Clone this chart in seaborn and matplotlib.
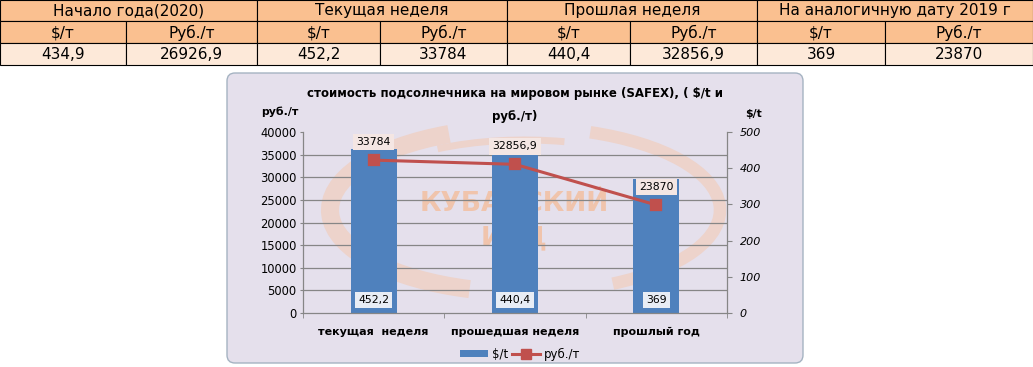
import pandas as pd
import matplotlib
matplotlib.use('Agg')
import matplotlib.pyplot as plt
import seaborn as sns
from matplotlib.patches import Rectangle, FancyBboxPatch, Patch, Arc
from matplotlib.lines import Line2D
from matplotlib.ticker import MultipleLocator

# === DATA ===
TABLE_GROUPS = ['Начало года(2020)', 'Текущая неделя', 'Прошлая неделя',
                'На аналогичную дату 2019 г']
TABLE_UNITS = ['$/т', 'Руб./т'] * 4
TABLE_VALUES = ['434,9', '26926,9', '452,2', '33784',
                '440,4', '32856,9', '369', '23870']

CATEGORIES = ['текущая  неделя', 'прошедшая неделя', 'прошлый год']
USD_T = [452.2, 440.4, 369]
RUB_T = [33784, 32856.9, 23870]

TITLE_1 = 'стоимость подсолнечника на мировом рынке (SAFEX), ( $/t и'
TITLE_2 = 'руб./т)'

# === CONFIG ===
W, H, DPI = 1033, 367, 100
COL_EDGES = [0, 126, 257, 380, 507, 630, 757, 885, 1033]
GROUP_EDGES = COL_EDGES[::2]
ROW_EDGES = [0, 21, 43, 65]
HEAD_COLOR = '#FAC090'
VALUE_COLOR = '#FDE9D9'
CHART_BG = '#E5E0EC'
BAR_COLOR = '#4F81BD'
LINE_COLOR = '#C0504D'
GRID_COLOR = '#868686'
TABLE_FS = 11


def fmt(v):
    return f'{v:g}'.replace('.', ',')


df = pd.DataFrame({'period': CATEGORIES, 'usd': USD_T, 'rub': RUB_T})

fig = plt.figure(figsize=(W / DPI, H / DPI), dpi=DPI)

# pixel-space layer for the table and the chart frame
ax_px = fig.add_axes([0, 0, 1, 1])
ax_px.set_xlim(0, W)
ax_px.set_ylim(H, 0)
ax_px.axis('off')


def cell(x0, x1, y0, y1, text, color):
    ax_px.add_patch(Rectangle((x0, y0), x1 - x0, y1 - y0, facecolor=color,
                              edgecolor='black', lw=0.8))
    ax_px.text((x0 + x1) / 2, (y0 + y1) / 2 + 0.5, text, ha='center',
               va='center', fontsize=TABLE_FS, color='black')


for i, g in enumerate(TABLE_GROUPS):
    cell(GROUP_EDGES[i], GROUP_EDGES[i + 1], ROW_EDGES[0], ROW_EDGES[1], g, HEAD_COLOR)
for i, (u, v) in enumerate(zip(TABLE_UNITS, TABLE_VALUES)):
    cell(COL_EDGES[i], COL_EDGES[i + 1], ROW_EDGES[1], ROW_EDGES[2], u, HEAD_COLOR)
    cell(COL_EDGES[i], COL_EDGES[i + 1], ROW_EDGES[2], ROW_EDGES[3], v, VALUE_COLOR)

# chart frame + faint watermark
ax_px.add_patch(FancyBboxPatch((227, 73), 576, 290,
                               boxstyle='round,pad=0,rounding_size=8',
                               facecolor=CHART_BG, edgecolor='#A5B3C2', lw=1))
wm = '#EDD3CB'
ax_px.add_patch(Arc((525, 210), 390, 165, theta1=125, theta2=225, lw=13, color=wm))
ax_px.add_patch(Arc((525, 210), 390, 165, theta1=-50, theta2=40, lw=9, color=wm))
ax_px.add_patch(Arc((525, 210), 360, 140, theta1=215, theta2=300, lw=5, color=wm))
ax_px.text(514, 204, 'КУБАНСКИЙ', ha='center', va='center', fontsize=19,
           fontweight='bold', color='#F0C4AC')
ax_px.text(514, 238, 'ИАЦ', ha='center', va='center', fontsize=19,
           fontweight='bold', color='#F0C4AC')

# plot area
ax_bar = fig.add_axes([303 / W, (H - 313) / H, (727 - 303) / W, (313 - 132) / H])
ax_bar.set_facecolor('none')
ax_line = ax_bar.twinx()

sns.barplot(data=df, x='period', y='usd', order=CATEGORIES, color=BAR_COLOR,
            saturation=1, width=0.325, errorbar=None, linewidth=0, ax=ax_bar)
sns.pointplot(data=df, x='period', y='rub', order=CATEGORIES, color=LINE_COLOR,
              markers='s', errorbar=None, markersize=6.5, linewidth=2.2,
              ax=ax_line)

ax_bar.set_ylim(0, 500)
ax_line.set_ylim(0, 40000)
ax_bar.set_xlim(-0.5, len(CATEGORIES) - 0.5)
for a in (ax_bar, ax_line):
    a.set_xlabel('')
    a.set_ylabel('')

# axes sides: bars on the right scale, line on the left scale
ax_bar.yaxis.tick_right()
ax_line.yaxis.tick_left()
ax_bar.yaxis.set_major_locator(MultipleLocator(100))
ax_line.yaxis.set_major_locator(MultipleLocator(5000))
# grid follows the left (руб./т) scale but sits behind the bars
ax_bar.yaxis.set_minor_locator(MultipleLocator(500 / 8))
ax_bar.yaxis.grid(True, which='minor', color=GRID_COLOR, lw=0.9)
ax_bar.set_axisbelow(True)
ax_bar.tick_params(axis='y', which='minor', length=0)
ax_bar.tick_params(axis='y', which='major', labelsize=8, length=3.6,
                   color=GRID_COLOR, pad=5.5)
for lab in ax_bar.get_yticklabels():
    lab.set_fontstyle('italic')
ax_line.tick_params(axis='y', labelsize=8.3, length=2.5, color=GRID_COLOR, pad=2)

ax_bar.set_xticks(range(len(CATEGORIES)))
ax_bar.set_xticklabels(CATEGORIES, fontsize=8, fontweight='bold')
ax_bar.set_xticks([x - 0.5 for x in range(len(CATEGORIES) + 1)], minor=True)
ax_bar.tick_params(axis='x', which='major', length=0, pad=10)
ax_bar.tick_params(axis='x', which='minor', length=3.6, color=GRID_COLOR)

for s in ax_line.spines.values():
    s.set_visible(False)
ax_bar.spines['top'].set_visible(False)
for s in ('left', 'right', 'bottom'):
    ax_bar.spines[s].set_color(GRID_COLOR)
    ax_bar.spines[s].set_linewidth(0.9)

# data labels
xs, ys = ax_line.lines[0].get_xdata(), ax_line.lines[0].get_ydata()
for x, y in zip(xs, ys):
    ax_line.annotate(fmt(y), xy=(x, y), xytext=(0, 13), textcoords='offset points',
                     ha='center', va='center', fontsize=7.8,
                     bbox=dict(boxstyle='square,pad=0.3', fc='#F4E6E3', ec='none'))
for p, v in zip(ax_bar.patches, USD_T):
    ax_bar.annotate(fmt(v), xy=(p.get_x() + p.get_width() / 2, 0), xytext=(0, 9.4),
                    textcoords='offset points', ha='center', va='center',
                    fontsize=7.8,
                    bbox=dict(boxstyle='square,pad=0.3', fc='#E8EDF5', ec='none'))

# titles
fig.text(515 / W, 1 - 93 / H, TITLE_1, ha='center', va='center', fontsize=8.5,
         fontweight='bold')
fig.text(515 / W, 1 - 117 / H, TITLE_2, ha='center', va='center', fontsize=8.5,
         fontweight='bold')
fig.text(280 / W, 1 - 112 / H, 'руб./т', ha='center', va='center', fontsize=7.8,
         fontweight='bold')
fig.text(754 / W, 1 - 114 / H, '$/t', ha='center', va='center', fontsize=7.8,
         fontweight='bold')

handles = [Patch(facecolor=BAR_COLOR),
           Line2D([], [], color=LINE_COLOR, lw=2.2, marker='s', ms=6.5)]
fig.legend(handles, ['$/t', 'руб./т'], loc='center', bbox_to_anchor=(520 / W, 1 - 354 / H),
           ncol=2, frameon=False, fontsize=8.5, handlelength=2.4, handleheight=0.5,
           columnspacing=0.3, handletextpad=0.3)

fig.savefig('out.png', dpi=DPI)
